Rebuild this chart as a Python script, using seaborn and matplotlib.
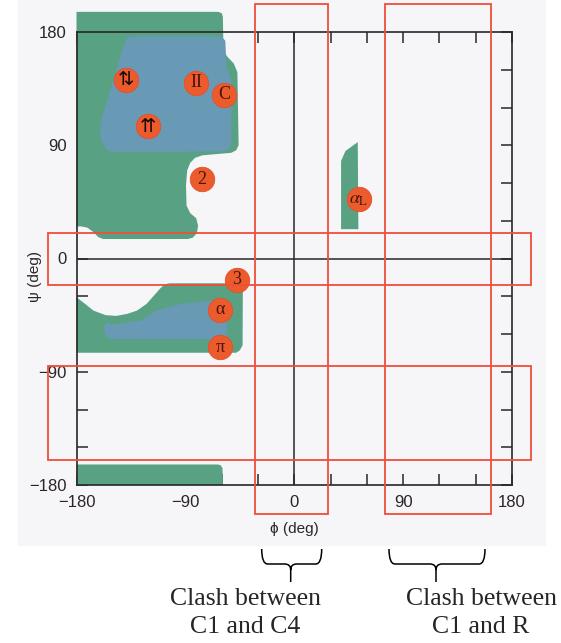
import numpy as np
import pandas as pd
import matplotlib
matplotlib.use("Agg")
import matplotlib.pyplot as plt
from matplotlib.path import Path
from matplotlib.patches import PathPatch, Rectangle
import seaborn as sns

# ---------------- data (phi, psi in degrees) ----------------
# sterically allowed (outer, green) and fully allowed (inner, blue) regions
beta_outer_phi = [-180, -63, -60, -59, -58.5, -55, -50, -47, -46, -48, -52, -76, -82, -86, -88.5,
                  -89.5, -89, -86, -81, -79.5, -80.5, -84, -88, -158, -162, -166, -171, -176, -180]
beta_outer_psi = [196, 196, 195, 192, 165, 160, 155, 148, 90, 86, 84, 82, 80, 76, 70,
                  58, 42, 36, 32, 26, 20, 16.5, 15.5, 15.5, 17, 21, 24.5, 25.5, 25.5]

beta_inner_phi = [-138, -135, -60, -57, -56, -52, -52, -54, -58.5, -150, -155, -158, -160.5, -160,
                  -152, -143, -140]
beta_inner_psi = [175.5, 176.5, 176.5, 173, 153, 140, 92, 87, 85, 84.6, 86, 91, 97, 108,
                  134, 163, 172]

alpha_outer_phi = [-180, -173, -166, -156, -147, -138, -130, -122, -116, -111, -107, -103, -45,
                   -42.5, -42.7, -45, -48, -180]
alpha_outer_psi = [-30.8, -36, -41.4, -45, -45.6, -44, -41.4, -36, -29.5, -24, -20.5, -19.7, -19.7,
                   -22.5, -69, -73, -74.9, -74.9]

alpha_inner_phi = [-150, -127, -114, -94, -67, -58, -55.7, -55.7, -152, -155, -157, -157, -155]
alpha_inner_psi = [-52.7, -49.3, -41.4, -36.1, -33.5, -34.3, -36, -64, -64, -62.5, -59, -54, -51]

strip_phi = [-180, -63, -60.5, -59.3, -59, -180]
strip_psi = [-163.7, -163.7, -164.5, -167, -180, -180]

alphaL_phi = [38.7, 38.7, 42.3, 52.5, 53]
alphaL_psi = [23.3, 77.5, 85.4, 92.5, 23.3]

# labelled conformations
conf_labels = ["\u21C5", "II", "C", "\u21C8", "2", "3", "\u03B1", "\u03C0", r"$\alpha_{\mathrm{L}}$"]
conf_phi = [-139, -81.3, -57.9, -120.6, -76.4, -47.4, -61, -61, 53.3]
conf_psi = [142.2, 139.6, 130.3, 105.2, 63, -16.8, -40.8, -70.4, 47.1]

# clash bands (highlight boxes)
clash_phi_bands = [(-32.2, 28.2), (75.3, 162.6)]
clash_psi_bands = [(-21.0, 20.2), (-160.1, -85.5)]

tick_major = [-180, -90, 0, 90, 180]
tick_minor = [-150, -120, -60, -30, 30, 60, 120, 150]
tick_labels = ["\u2212180", "\u221290", "0", "90", "180"]

annotations = ["Clash between\nC1 and C4", "Clash between\nC1 and R"]

# ---------------- styling ----------------
sns.set_theme(style="white")
plt.rcParams["font.family"] = ["Liberation Sans", "DejaVu Sans"]
plt.rcParams["mathtext.fontset"] = "stix"

GREEN = "#58A283"
BLUE = "#6899B5"
ORANGE = "#EC5B2B"
RED = "#EF4E3B"
DARK = "#2b2528"

W, H = 561, 643
fig = plt.figure(figsize=(W / 100, H / 100), dpi=100)
fig.patch.set_facecolor("white")
fig.patches.append(Rectangle((18 / W, 1 - 545 / H), (545 - 18) / W, 545 / H,
                             transform=fig.transFigure, color="#F6F5F8", zorder=-5))

L, R, T, B = 76.5, 512, 32, 485
ax = fig.add_axes([L / W, 1 - B / H, (R - L) / W, (B - T) / H])
ax.set_zorder(2)
ax.set_facecolor("none")
ax.set_xlim(-180, 180)
ax.set_ylim(-180, 180)

for px, py, col in [(beta_outer_phi, beta_outer_psi, GREEN),
                    (alpha_outer_phi, alpha_outer_psi, GREEN),
                    (strip_phi, strip_psi, GREEN),
                    (alphaL_phi, alphaL_psi, GREEN),
                    (beta_inner_phi, beta_inner_psi, BLUE),
                    (alpha_inner_phi, alpha_inner_psi, BLUE)]:
    for p in ax.fill(px, py, color=col, lw=0, zorder=1):
        p.set_clip_on(False)

ax.axhline(0, color=DARK, lw=1.1, zorder=2)
ax.axvline(0, color=DARK, lw=1.1, zorder=2)

df = pd.DataFrame({"phi": conf_phi, "psi": conf_psi, "label": conf_labels})
sns.scatterplot(data=df, x="phi", y="psi", s=310, color=ORANGE, edgecolor="#E4502C",
                linewidth=0.6, ax=ax, zorder=5, clip_on=False, legend=False)
for _, r in df.iterrows():
    if r["label"] in ("\u21C5", "\u21C8"):
        ax.text(r["phi"], r["psi"], r["label"], ha="center", va="center", fontsize=14,
                family="DejaVu Sans", color="#1a0a08", zorder=6)
    else:
        ax.text(r["phi"], r["psi"], r["label"], ha="center", va="center", fontsize=13,
                family=["Liberation Serif", "DejaVu Serif"], color="#4a1408", zorder=6)

# clash boxes (data coordinates, extending beyond axes)
for (a, b) in clash_phi_bands:
    ax.add_patch(Rectangle((a, -203), b - a, 405, fill=False, ec=RED, lw=1.3,
                           clip_on=False, zorder=7))
for (a, b) in clash_psi_bands:
    ax.add_patch(Rectangle((-203.2, a), 398.6, b - a, fill=False, ec=RED, lw=1.3,
                           clip_on=False, zorder=7))

ax.set_xticks(tick_major)
ax.set_xticks(tick_minor, minor=True)
ax.set_yticks(tick_major)
ax.set_yticks(tick_minor, minor=True)
ax.set_xticklabels(tick_labels)
ax.set_yticklabels(tick_labels)
ax.tick_params(which="both", direction="in", length=8, width=1.1, top=True, right=True,
               bottom=True, left=True, color=DARK)
ax.tick_params(which="major", labelsize=12, pad=7, labelcolor=DARK)
for s in ax.spines.values():
    s.set_color(DARK)
    s.set_linewidth(1.2)
    s.set_zorder(3)

ax.set_xlabel("\u03D5 (deg)", fontsize=11, color=DARK)
ax.xaxis.set_label_coords(0.4995, -0.082)
ax.set_ylabel("\u03C8 (deg)", fontsize=11, color=DARK)
ax.yaxis.set_label_coords(-0.079, 0.46)

# braces below the plot (figure pixel coordinates)
def brace(x0, x1, xc, ytop=549, ymid=564, ytip=582, r=6):
    f = lambda x, y: (x / W, 1 - y / H)
    verts = [f(x0, ytop), f(x0, ymid), f(x0 + r, ymid), f(xc - r, ymid),
             f(xc, ymid), f(xc, ymid + r), f(xc, ytip), f(xc, ymid + r),
             f(xc, ymid), f(xc + r, ymid), f(x1 - r, ymid), f(x1, ymid), f(x1, ytop)]
    codes = [Path.MOVETO, Path.CURVE3, Path.CURVE3, Path.LINETO,
             Path.CURVE3, Path.CURVE3, Path.LINETO, Path.MOVETO,
             Path.CURVE3, Path.CURVE3, Path.LINETO, Path.CURVE3, Path.CURVE3]
    fig.add_artist(PathPatch(Path(verts, codes), fill=False, lw=1.1, ec="black",
                             transform=fig.transFigure))

brace(261.7, 321.7, 290.7)
brace(389, 485, 436)

fig.text(245 / W, 1 - 613 / H, annotations[0], ha="center", va="center", fontsize=18.5,
         family="Liberation Serif", linespacing=1.3, multialignment="center")
fig.text(481 / W, 1 - 613 / H, annotations[1], ha="center", va="center", fontsize=18.5,
         family="Liberation Serif", linespacing=1.3, multialignment="center")

fig.savefig("out.png", dpi=100)
